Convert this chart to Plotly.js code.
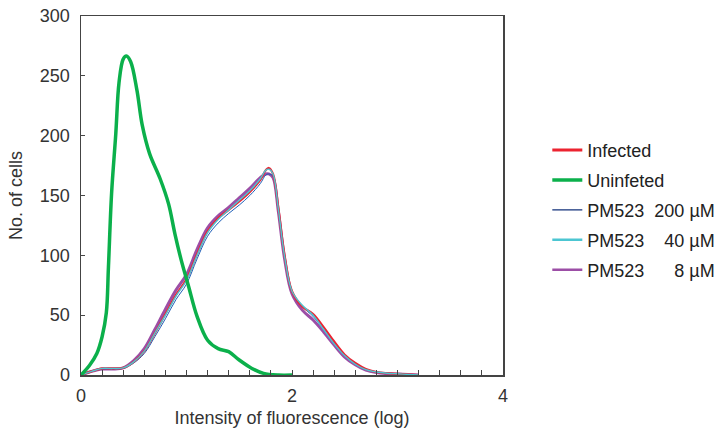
<!DOCTYPE html>
<html>
<head>
<meta charset="utf-8">
<script src="https://cdn.plot.ly/plotly-3.0.1.min.js"></script>
<style>html,body{margin:0;padding:0;background:#fff;}#chart{width:727px;height:431px;}</style>
</head>
<body>
<div id="chart"></div>
<script>
// Uninfected (green)
const xUninf = [0, 0.08, 0.15, 0.2, 0.24, 0.26, 0.29, 0.33, 0.36, 0.4, 0.43, 0.47, 0.53, 0.58, 0.65, 0.75, 0.83, 0.89, 0.95, 1.02, 1.1, 1.2, 1.3, 1.4, 1.5, 1.62, 1.73, 1.87, 2.0];
const yUninf = [0, 8, 18, 32, 52, 90, 152, 202, 244, 264, 266.5, 262, 238, 209, 185, 164, 143, 118, 96, 74, 49, 29, 22, 19.5, 12.5, 5.5, 1.4, 0, 0];

// Infected + PM523 series share one x grid
const xInf = [0, 0.1, 0.2, 0.3, 0.4, 0.5, 0.6, 0.7, 0.8, 0.9, 1.0, 1.1, 1.2, 1.3, 1.4, 1.5, 1.6, 1.7, 1.75, 1.78, 1.82, 1.87, 1.93, 2.0, 2.1, 2.2, 2.3, 2.4, 2.5, 2.6, 2.7, 2.8, 2.9, 3.0, 3.1, 3.2];
const yInfected = [0, 3, 5.5, 5.5, 6, 11, 20, 35, 51, 67, 80, 101, 120, 131, 138, 145, 153, 163, 171, 173, 168, 140, 100, 70, 57, 51, 40, 28, 17, 10, 5, 2.5, 1.5, 1, 0.5, 0];
const yPM200 = [0, 3, 5, 5, 5.5, 10, 18, 32, 47, 63, 76, 97, 116, 127, 135, 142, 150, 160, 167, 168, 166, 140, 100, 70, 57, 49, 38, 26, 16, 9, 4.5, 2.5, 1.5, 1, 0.5, 0];
const yPM40 = [0, 3, 5.5, 5.5, 6, 11, 20, 35, 50, 66, 79, 100, 119, 130, 138, 146, 154, 164, 171, 172, 168, 139, 99, 70, 58, 50, 38, 26, 16, 9, 4.5, 2.5, 1.5, 1, 0.5, 0];
const yPM8 = [0, 3, 5, 5, 6, 12, 22, 38, 55, 71, 84, 105, 123, 133, 140, 148, 156, 165, 168, 168, 165, 137, 97, 68, 54, 46, 36, 25, 15, 8.5, 4, 2, 1.2, 0.8, 0.4, 0];

const names = ["Infected", "Uninfeted", "PM523\u00a0\u00a0200\u00a0\u00b5M", "PM523\u00a0\u00a0\u00a0\u00a040\u00a0\u00b5M", "PM523\u00a0\u00a0\u00a0\u00a0\u00a0\u00a08\u00a0\u00b5M"];
const xTickVals = [0, 2, 4];
const yTickVals = [0, 50, 100, 150, 200, 250, 300];

const plotStyles = [
  {color: '#ec2330', width: 2.2},
  {color: '#0bb04b', width: 3.5},
  {color: '#1f5fb8', width: 1},
  {color: '#4cc6d2', width: 1.4},
  {color: '#9c4ea6', width: 3}
];
const legendStyles = [
  {color: '#ec2330', width: 3},
  {color: '#0bb04b', width: 3.5},
  {color: '#12307a', width: 1.2},
  {color: '#4cc6d2', width: 2.5},
  {color: '#9c4ea6', width: 2.5}
];
const series = [
  {x: xInf, y: yInfected},
  {x: xUninf, y: yUninf},
  {x: xInf, y: yPM200},
  {x: xInf, y: yPM40},
  {x: xInf, y: yPM8}
];
const drawOrder = [4, 2, 0, 3, 1];

const traces = [];
drawOrder.forEach(i => {
  traces.push({type: 'scatter', mode: 'lines', x: series[i].x, y: series[i].y, name: names[i],
    showlegend: false, line: Object.assign({shape: 'spline'}, plotStyles[i])});
});
names.forEach((n, i) => {
  traces.push({type: 'scatter', mode: 'lines', x: [null], y: [null], name: n,
    legendgroup: 'g' + i, legendrank: i + 1, showlegend: true, hoverinfo: 'skip',
    line: legendStyles[i]});
});

const ff = '"Liberation Sans", Arial, sans-serif';
const fs = 18;

const layout = {
  width: 727, height: 431,
  margin: {l: 81, r: 224, t: 16, b: 56, pad: 0, autoexpand: false},
  paper_bgcolor: '#fff', plot_bgcolor: '#fff',
  font: {family: ff, size: fs, color: '#333'},
  showlegend: true,
  legend: {
    x: 1.105, xanchor: 'left', y: 0.46, yanchor: 'middle',
    font: {family: ff, size: fs, color: '#222'},
    tracegroupgap: 3.5, itemwidth: 30, bgcolor: 'rgba(0,0,0,0)'
  },
  xaxis: {
    range: [0, 4], tickvals: xTickVals, ticktext: xTickVals.map(String),
    ticks: 'inside', ticklen: 5, tickcolor: '#444', tickwidth: 1,
    minor: {dtick: 0.2, tick0: 0, ticks: 'inside', ticklen: 5, tickcolor: '#444', tickwidth: 1},
    showline: true, linecolor: '#444', linewidth: 1.5, mirror: true,
    showgrid: false, zeroline: false, ticklabelstandoff: 4,
    tickfont: {family: ff, size: fs, color: '#333'},
    title: {text: 'Intensity of fluorescence (log)', font: {family: ff, size: fs, color: '#333'}, standoff: 6}
  },
  yaxis: {
    range: [0, 300], tickvals: yTickVals,
    ticks: 'inside', ticklen: 4, tickcolor: '#444', tickwidth: 1,
    showline: true, linecolor: '#444', linewidth: 1.5, mirror: true,
    showgrid: false, zeroline: false, ticklabelstandoff: 6,
    tickfont: {family: ff, size: fs, color: '#333'},
    title: {text: 'No. of cells', font: {family: ff, size: fs, color: '#333'}, standoff: 12}
  }
};

Plotly.newPlot('chart', traces, layout, {displayModeBar: false, staticPlot: true});
</script>
</body>
</html>
